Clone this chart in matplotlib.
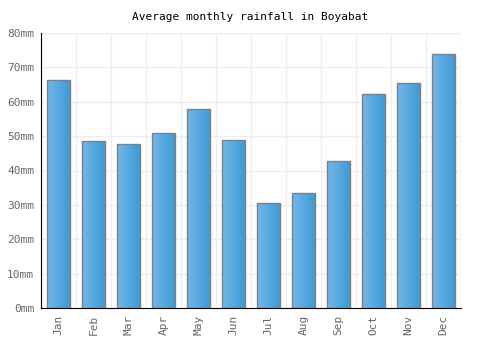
import numpy as np
import matplotlib
matplotlib.use("Agg")
from matplotlib import pyplot as plt
from matplotlib.colors import LinearSegmentedColormap

months = ['Jan', 'Feb', 'Mar', 'Apr', 'May', 'Jun', 'Jul', 'Aug', 'Sep', 'Oct', 'Nov', 'Dec']
rainfall = [66.2, 48.6, 47.8, 50.8, 58.0, 48.9, 30.6, 33.6, 42.7, 62.3, 65.5, 73.8]
yticks = [0, 10, 20, 30, 40, 50, 60, 70, 80]

plt.rcParams['font.family'] = 'DejaVu Sans Mono'

fig = plt.figure(figsize=(5, 3.5), dpi=100)
ax = fig.add_axes([41/500, 42/350, 420/500, 275/350])

x = np.arange(len(months))
bars = ax.bar(x, rainfall, width=0.67, color='none', edgecolor='#808080', linewidth=1, zorder=3)

# left-to-right gradient inside each bar
cmap = LinearSegmentedColormap.from_list('rain', ['#74b6ea', '#3b9bd3'])
grad = np.linspace(0, 1, 64).reshape(1, -1)
for b in bars:
    x0, y0 = b.get_x(), b.get_y()
    w, h = b.get_width(), b.get_height()
    im = ax.imshow(grad, cmap=cmap, aspect='auto', extent=[x0, x0 + w, y0, y0 + h], zorder=2)
    im.set_clip_path(b)

ax.set_xlim(-0.5, len(months) - 0.5)
ax.set_ylim(0, 80)
ax.set_xticks(x)
ax.set_xticklabels(months, rotation=90)
ax.set_yticks(yticks)
ax.set_yticklabels([f'{v}mm' for v in yticks])
ax.set_xticks(np.arange(len(months) + 1) - 0.5, minor=True)

ax.grid(which='minor', axis='x', color='#eeeeee', linewidth=1)
ax.grid(which='major', axis='y', color='#eeeeee', linewidth=1)
ax.set_axisbelow(True)

for s in ['top', 'right']:
    ax.spines[s].set_visible(False)
ax.spines['left'].set_color('black')
ax.spines['bottom'].set_color('black')
ax.tick_params(which='both', length=0, labelsize=8, labelcolor='#666666', pad=5)

fig.text(0.5, 1 - 17/350, 'Average monthly rainfall in Boyabat', ha='center', va='center', fontsize=8)

fig.savefig('out.png', dpi=100)
